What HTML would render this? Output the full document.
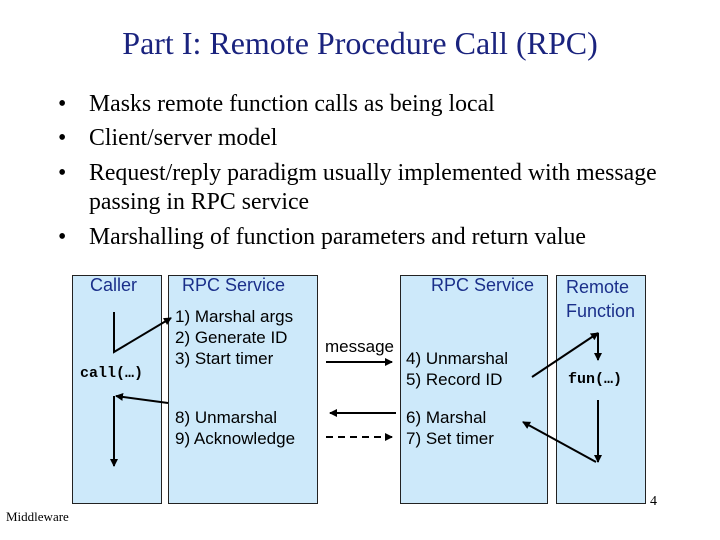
<!DOCTYPE html>
<html><head><meta charset="utf-8"><style>
body{margin:0;width:720px;height:540px;background:#fff;position:relative;overflow:hidden;font-family:"Liberation Serif",serif}
.t{position:absolute;white-space:nowrap}
.b{position:absolute;background:#cde9fa;border:1px solid #222;box-sizing:border-box}
.s{font-family:"Liberation Sans",sans-serif;font-size:17px;color:#000}
.h{font-family:"Liberation Sans",sans-serif;font-size:18px;color:#1a2f8a}
.m{font-family:"Liberation Mono",monospace;font-size:15px;font-weight:bold}
.bl{position:absolute;left:58px;font-size:23.8px;white-space:nowrap}
.bl span{position:absolute;left:31px}
</style></head><body>
<div class="t" style="left:0;width:720px;text-align:center;top:25px;font-size:32px;color:#1a237e">Part I: Remote Procedure Call (RPC)</div>
<div class="bl" style="top:91px">•<span>Masks remote function calls as being local</span></div>
<div class="bl" style="top:125px">•<span>Client/server model</span></div>
<div class="bl" style="top:160px">•<span>Request/reply paradigm usually implemented with message</span></div>
<div class="bl" style="top:189px"><span>passing in RPC service</span></div>
<div class="bl" style="top:224px">•<span>Marshalling of function parameters and return value</span></div>
<div class="b" style="left:72px;top:275px;width:90px;height:229px"></div>
<div class="b" style="left:168px;top:275px;width:150px;height:229px"></div>
<div class="b" style="left:400px;top:275px;width:148px;height:229px"></div>
<div class="b" style="left:556px;top:275px;width:90px;height:229px"></div>
<div class="t h" style="left:90px;top:275px">Caller</div>
<div class="t h" style="left:182px;top:275px">RPC Service</div>
<div class="t h" style="left:431px;top:275px">RPC Service</div>
<div class="t h" style="left:566px;top:275px;line-height:24px">Remote<br>Function</div>
<div class="t s" style="left:175px;top:306px;line-height:21px">1) Marshal args<br>2) Generate ID<br>3) Start timer</div>
<div class="t s" style="left:175px;top:407px;line-height:21px">8) Unmarshal<br>9) Acknowledge</div>
<div class="t s" style="left:325px;top:337px">message</div>
<div class="t s" style="left:406px;top:348px;line-height:21px">4) Unmarshal<br>5) Record ID</div>
<div class="t s" style="left:406px;top:407px;line-height:21px">6) Marshal<br>7) Set timer</div>
<div class="t m" style="left:80px;top:365px">call(…)</div>
<div class="t m" style="left:568px;top:371px">fun(…)</div>
<div class="t" style="left:6px;top:509px;font-size:13px">Middleware</div>
<div class="t" style="left:650px;top:494px;font-size:14px">4</div>
<svg width="720" height="540" style="position:absolute;left:0;top:0">
<defs><marker id="a" markerWidth="8" markerHeight="8" refX="7" refY="4" orient="auto" markerUnits="userSpaceOnUse"><path d="M0,0 L8,4 L0,8z" fill="#000"/></marker></defs>
<g stroke="#000" stroke-width="2" fill="none">
<path d="M114,312 L114,352 L171,318" marker-end="url(#a)"/>
<path d="M168,403 L116,396" marker-end="url(#a)"/>
<path d="M114,396 L114,466" marker-end="url(#a)"/>
<path d="M326,362 L392,362" marker-end="url(#a)"/>
<path d="M396,413 L330,413" marker-end="url(#a)"/>
<path d="M326,437 L392,437" stroke-dasharray="7,5" marker-end="url(#a)"/>
<path d="M532,377 L598,333" marker-end="url(#a)"/>
<path d="M598,333 L598,360" marker-end="url(#a)"/>
<path d="M598,400 L598,462" marker-end="url(#a)"/>
<path d="M596,462 L523,422" marker-end="url(#a)"/>
</g></svg>
</body></html>
